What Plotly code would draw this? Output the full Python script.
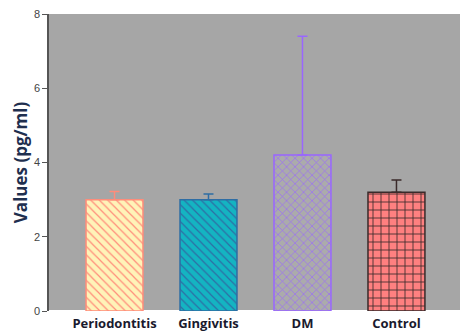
import plotly.graph_objects as go

categories = ["Periodontitis", "Gingivitis", "DM", "Control"]
values = [3.0, 3.0, 4.2, 3.2]
err_up = [0.22, 0.15, 3.2, 0.33]

fills = ["#FFF3B8", "#14B4C2", "#ABABAB", "#FF8080"]
lines = ["#FF8C7A", "#2E6DA4", "#9966FF", "#3A2A2A"]
shapes = ["\\", "\\", "x", "+"]
sizes = [6, 6, 6, 8]

fig = go.Figure()
for i, c in enumerate(categories):
    fig.add_trace(go.Bar(
        x=[c], y=[values[i]], width=0.606,
        marker=dict(color=fills[i],
                    line=dict(color=lines[i], width=1.5),
                    pattern=dict(shape=shapes[i], fgcolor=lines[i], bgcolor=fills[i],
                                 size=sizes[i], solidity=0.2, fillmode="replace")),
        error_y=dict(type="data", array=[err_up[i]], arrayminus=[0], symmetric=False,
                     color=lines[i], thickness=1.5, width=5),
        showlegend=False,
    ))

fig.update_layout(
    width=460, height=335,
    margin=dict(l=49, r=0, t=14, b=24),
    paper_bgcolor="white", plot_bgcolor="#A6A6A6",
    barmode="overlay",
    xaxis=dict(type="category", range=[-0.697, 3.676], showline=False, ticks="",
               automargin=False, ticklabelstandoff=3,
               tickfont=dict(family="Open Sans", size=13, color="#1a1a2e", weight="bold"),
               showgrid=False),
    yaxis=dict(range=[0, 8], tickvals=[0, 2, 4, 6, 8], showgrid=False, automargin=False,
               showline=True, linecolor="#555555", linewidth=1.5,
               ticks="outside", ticklen=5, tickcolor="#555555",
               tickfont=dict(family="Liberation Sans", size=11, color="#444444"),
               title=dict(text="Values (pg/ml)", standoff=2,
                          font=dict(family="Open Sans", size=17, color="#1F2F4F", weight="bold"))),
)

fig.write_html("out.html", config={"displayModeBar": False},
               post_script="document.body.style.margin='0';document.body.style.overflow='hidden';")
